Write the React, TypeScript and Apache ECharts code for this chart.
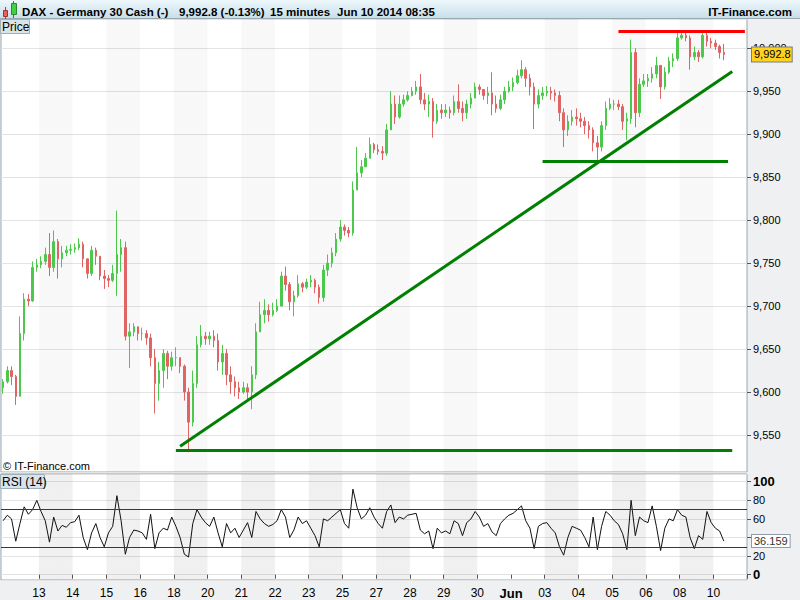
import React, { useEffect, useRef } from 'react';
import * as echarts from 'echarts';

// ---- x axis layout: one section per trading day ----
const dayLabels = ['', '13', '14', '15', '16', '18', '20', '21', '22', '23', '25', '27', '28', '29', '30', 'Jun', '03', '04', '05', '06', '08', '10'];
const slotsPerDay = [9, 8, 8, 8, 8, 8, 8, 8, 8, 8, 8, 8, 8, 8, 8, 8, 8, 8, 8, 8, 8, 8];
const shadedDays = ['13', '15', '18', '21', '23', '27', '29', '03', '05', '08'];

// ---- price data (DAX cash) ----
const firstOpen = 9605;
const closes = [
  9612, 9625, 9618, 9595, 9668, 9708, 9706, 9745, 9748,
  9752, 9760, 9745, 9775, 9755, 9762, 9765, 9766,
  9768, 9772, 9755, 9738, 9765, 9758, 9735, 9732,
  9730, 9738, 9760, 9768, 9665, 9670, 9676, 9668,
  9668, 9663, 9640, 9610, 9625, 9645, 9630, 9640,
  9640, 9630, 9600, 9565, 9610, 9655, 9665, 9662,
  9665, 9660, 9635, 9645, 9620, 9612, 9605, 9600,
  9605, 9600, 9620, 9670, 9690, 9695, 9690, 9695,
  9700, 9735, 9725, 9705, 9712, 9726, 9722, 9728,
  9730, 9722, 9710, 9742, 9750, 9762, 9778, 9792,
  9788, 9785, 9835, 9855, 9862, 9872, 9888, 9882,
  9880, 9878, 9905, 9935, 9920, 9935, 9940, 9945,
  9950, 9955, 9940, 9935, 9938, 9915, 9928, 9925,
  9928, 9925, 9938, 9930, 9925, 9935, 9942, 9955,
  9952, 9945, 9948, 9935, 9930, 9940, 9950, 9955,
  9960, 9968, 9975, 9965, 9955, 9935, 9945, 9948,
  9950, 9948, 9945, 9925, 9905, 9915, 9920, 9918,
  9915, 9910, 9905, 9890, 9885, 9910, 9930, 9935,
  9935, 9932, 9915, 9918, 9995, 9925, 9958, 9962,
  9965, 9970, 9980, 9955, 9972, 9985, 9988, 10012,
  10015, 10012, 9990, 9995, 9990, 10015, 10008, 10006,
  10002, 9995, 9992.8,
];
const highs = [
  9615, 9630, 9630, 9620, 9688, 9715, 9714, 9752, 9755,
  9758, 9768, 9785, 9788, 9778, 9770, 9770, 9772,
  9773, 9779, 9775, 9752, 9770, 9768, 9750, 9742,
  9736, 9748, 9811, 9778, 9775, 9680, 9680, 9675,
  9675, 9672, 9668, 9650, 9635, 9650, 9648, 9647,
  9652, 9640, 9632, 9605, 9625, 9665, 9678, 9670,
  9670, 9672, 9668, 9655, 9650, 9630, 9618, 9612,
  9612, 9610, 9630, 9680, 9705, 9708, 9702, 9704,
  9708, 9740, 9746, 9728, 9718, 9736, 9728, 9732,
  9736, 9732, 9725, 9748, 9760, 9768, 9785, 9800,
  9795, 9792, 9845, 9885, 9870, 9878, 9896, 9890,
  9888, 9886, 9912, 9950, 9945, 9945, 9946, 9950,
  9955, 9962, 9970, 9948, 9946, 9942, 9935, 9935,
  9935, 9932, 9945, 9958, 9938, 9940, 9948, 9960,
  9958, 9952, 9955, 9972, 9945, 9946, 9955, 9962,
  9966, 9975, 9986, 9978, 9970, 9960, 9952, 9955,
  9956, 9955, 9952, 9950, 9930, 9922, 9928, 9930,
  9925, 9920, 9915, 9908, 9898, 9915, 9938, 9942,
  9940, 9940, 9935, 9925, 10010, 10000, 9965, 9970,
  9970, 9978, 9990, 9980, 9978, 9990, 9994, 10020,
  10020, 10020, 10015, 10002, 9998, 10020, 10018, 10012,
  10010, 10004, 10005,
];
const lows = [
  9598, 9610, 9608, 9585, 9605, 9660, 9700, 9705, 9740,
  9744, 9748, 9735, 9740, 9732, 9745, 9758, 9760,
  9762, 9765, 9745, 9732, 9735, 9748, 9730, 9720,
  9722, 9728, 9712, 9740, 9660, 9628, 9665, 9660,
  9660, 9655, 9630, 9575, 9590, 9605, 9615, 9625,
  9630, 9622, 9590, 9530, 9560, 9605, 9652, 9655,
  9655, 9652, 9625, 9620, 9608, 9598, 9595, 9592,
  9598, 9592, 9580, 9615, 9670, 9680, 9682, 9688,
  9693, 9700, 9718, 9695, 9688, 9710, 9716, 9720,
  9722, 9715, 9703, 9705, 9735, 9745, 9758, 9775,
  9782, 9780, 9782, 9835, 9850, 9862, 9878, 9878,
  9876, 9870, 9875, 9905, 9912, 9918, 9932, 9938,
  9944, 9946, 9935, 9928, 9920, 9896, 9912, 9918,
  9920, 9918, 9922, 9925, 9915, 9918, 9930, 9942,
  9946, 9940, 9935, 9922, 9925, 9928, 9935, 9948,
  9950, 9958, 9965, 9955, 9945, 9906, 9930, 9940,
  9944, 9940, 9938, 9915, 9885, 9898, 9910, 9910,
  9908, 9900, 9895, 9880, 9866, 9880, 9905, 9928,
  9928, 9928, 9905, 9893, 9912, 9908, 9920, 9955,
  9955, 9960, 9965, 9941, 9952, 9970, 9978, 9985,
  10010, 10008, 9975, 9986, 9984, 9988, 10002, 10000,
  9998, 9988, 9986,
];

// ---- RSI (14) ----
const rsi = [
  58, 64, 60, 36, 55, 73, 65, 70, 80,
  68, 58, 35, 62, 47, 53, 51, 56,
  57, 64, 40, 27, 45, 55, 40, 30,
  45, 52, 85, 58, 22, 40, 48, 47,
  45, 38, 65, 28, 45, 50, 48, 62,
  52, 40, 22, 19, 55, 70, 62, 56,
  52, 62, 45, 30, 55, 45, 50, 40,
  48, 56, 40, 68, 60, 55, 52, 54,
  58, 70, 62, 40, 48, 62, 55, 58,
  50, 42, 30, 60, 58, 62, 66, 70,
  55, 50, 92, 72, 60, 64, 72, 62,
  55, 50, 68, 75, 56, 62, 60, 64,
  65, 66, 48, 44, 47, 28, 50, 45,
  47, 44, 58, 55, 42, 56, 60, 68,
  62, 52, 55, 46, 42, 55, 60, 64,
  66, 70, 74, 58, 50, 28, 52, 55,
  56, 50, 45, 30, 21, 40, 52, 50,
  48, 40, 30, 62, 27, 52, 68, 64,
  58, 54, 44, 27, 80, 42, 62, 58,
  56, 74, 52, 26, 50, 60, 58, 70,
  64, 62, 40, 28, 42, 38, 68, 56,
  50, 47, 36.159,
];

// ---- drawn levels ----
const resistanceLevel = 10020;
const supportHigh = 9868;
const supportLow = 9532;
const trendStart = 9537;
const trendEnd = 9973;
const rsiUpper = 70;
const rsiLower = 30;

const priceMin = 9507;
const priceMax = 10034;
const rsiMin = -5.7;
const rsiMax = 108.3;

const FONT = 'Liberation Sans, Arial, sans-serif';

export default function App() {
  const ref = useRef<HTMLDivElement>(null);

  useEffect(() => {
    if (!ref.current) return;
    const chart = echarts.init(ref.current, undefined, { renderer: 'svg' });

    const categories: string[] = [];
    const slotDay: string[] = [];
    const dayStart: boolean[] = [];
    dayLabels.forEach((d, i) => {
      for (let k = 0; k < slotsPerDay[i]; k++) {
        categories.push(`${i}-${k}`);
        slotDay.push(d);
        dayStart.push(k === 0 && i > 0);
      }
    });

    const candles = closes.map((c, i) => {
      const o = i === 0 ? firstOpen : closes[i - 1];
      return [o, c, Math.min(lows[i], o, c), Math.max(highs[i], o, c)];
    });
    const bands = categories.map((_, i) => (shadedDays.includes(slotDay[i]) ? 1 : '-'));
    const lastClose = closes[closes.length - 1];
    const lastRsi = rsi[rsi.length - 1];
    const fmt = (v: number) => v.toLocaleString('en-US', { maximumFractionDigits: 1 });

    const gLine = { color: '#008000', width: 3, type: 'solid' };
    const rLine = { color: '#ff0000', width: 3, type: 'solid' };
    const hidden = { color: 'rgba(0,0,0,0)', width: 0, type: 'solid', opacity: 1 };

    const option: any = {
      animation: false,
      backgroundColor: '#eef0f2',
      textStyle: { fontFamily: FONT },
      grid: [
        { left: 1, top: 19, width: 746, height: 453, show: true, backgroundColor: '#ffffff', borderColor: '#9aa6ae', borderWidth: 1 },
        { left: 1, top: 474, width: 746, height: 106, show: true, backgroundColor: '#ffffff', borderColor: '#9aa6ae', borderWidth: 1 },
      ],
      xAxis: [
        { type: 'category', gridIndex: 0, data: categories, boundaryGap: true, show: false },
        {
          type: 'category', gridIndex: 1, data: categories, boundaryGap: true,
          axisLine: { show: false },
          axisTick: { show: true, interval: (i: number) => dayStart[i], length: 4, lineStyle: { color: '#555' } },
          axisLabel: {
            interval: (i: number) => dayStart[i],
            formatter: (_v: string, i: number) => (slotDay[i] === 'Jun' ? '{b|Jun}' : slotDay[i]),
            margin: 7, fontSize: 12, color: '#000', fontFamily: FONT, padding: [0, 4, 0, 0],
            rich: { b: { fontWeight: 'bold', fontSize: 13, color: '#000', fontFamily: FONT } },
          },
          splitLine: { show: false },
        },
      ],
      yAxis: [
        {
          type: 'value', gridIndex: 0, position: 'right', min: priceMin, max: priceMax, splitNumber: 10,
          axisLine: { show: false },
          axisTick: { show: true, length: 4, lineStyle: { color: '#555' } },
          axisLabel: { formatter: (v: number) => fmt(v), fontSize: 11, color: '#000', margin: 6, showMinLabel: false, showMaxLabel: false, fontFamily: FONT },
          splitLine: { show: true, lineStyle: { color: '#e3e3e3', width: 1 } },
        },
        { type: 'value', gridIndex: 0, min: 0, max: 1, show: false },
        {
          type: 'value', gridIndex: 1, position: 'right', min: rsiMin, max: rsiMax, splitNumber: 5,
          axisLine: { show: false },
          axisTick: { show: true, length: 4, lineStyle: { color: '#555' } },
          axisLabel: {
            // the 40 label sits under the current-value box in the original
            formatter: (v: number) => (v === 100 || v === 0 ? `{b|${v}}` : v === 40 ? '' : `{n|${v}}`),
            margin: 6, showMinLabel: false, showMaxLabel: false,
            rich: {
              b: { fontWeight: 'bold', fontSize: 13, color: '#000', fontFamily: FONT },
              n: { fontSize: 11, color: '#000', fontFamily: FONT },
            },
          },
          splitLine: { show: true, lineStyle: { color: '#e3e3e3', width: 1 } },
        },
        { type: 'value', gridIndex: 1, min: 0, max: 1, show: false },
      ],
      series: [
        {
          type: 'bar', xAxisIndex: 0, yAxisIndex: 1, data: bands, barWidth: '100%', barCategoryGap: '0%',
          itemStyle: { color: 'rgba(0,0,0,0.028)' }, silent: true,
        },
        {
          type: 'bar', xAxisIndex: 1, yAxisIndex: 3, data: bands, barWidth: '100%', barCategoryGap: '0%',
          itemStyle: { color: 'rgba(0,0,0,0.06)' }, silent: true,
        },
        {
          type: 'candlestick', xAxisIndex: 0, yAxisIndex: 0, data: candles, barWidth: 2,
          itemStyle: { color: '#4cc94c', color0: '#e06464', borderColor: '#4cc94c', borderColor0: '#e06464', borderWidth: 1 },
          markLine: {
            silent: true, symbol: ['none', 'none'], animation: false,
            label: { show: false },
            data: [
              [{ coord: [146, resistanceLevel], lineStyle: rLine }, { coord: [176, resistanceLevel], lineStyle: rLine }],
              [{ coord: [128, supportHigh], lineStyle: gLine }, { coord: [172, supportHigh], lineStyle: gLine }],
              [{ coord: [41, supportLow], lineStyle: gLine }, { coord: [173, supportLow], lineStyle: gLine }],
              [{ coord: [42, trendStart], lineStyle: gLine }, { coord: [173, trendEnd], lineStyle: gLine }],
              {
                yAxis: lastClose,
                lineStyle: hidden,
                label: {
                  show: true, position: 'end', distance: 5, formatter: fmt(lastClose), opacity: 1,
                  backgroundColor: '#ffd21f', borderColor: '#7a7a7a', borderWidth: 1,
                  padding: [2, 1, 1, 2], fontSize: 11, color: '#000', fontFamily: FONT,
                },
              },
            ],
          },
        },
        {
          type: 'line', xAxisIndex: 1, yAxisIndex: 2, data: rsi, symbol: 'none',
          lineStyle: { color: '#111', width: 1 },
          markLine: {
            silent: true, symbol: ['none', 'none'], animation: false,
            label: { show: false },
            data: [
              { yAxis: rsiUpper, lineStyle: { color: '#2a2aa8', width: 1, type: 'solid' } },
              { yAxis: rsiLower, lineStyle: { color: '#2a2aa8', width: 1, type: 'solid' } },
              {
                yAxis: lastRsi,
                lineStyle: hidden,
                label: {
                  show: true, position: 'end', distance: 5, formatter: String(lastRsi), opacity: 1,
                  backgroundColor: '#ffffff', borderColor: '#8c9ca8', borderWidth: 1,
                  padding: [1, 2, 0, 2], fontSize: 11, color: '#333', fontFamily: FONT,
                },
              },
            ],
          },
        },
      ],
      graphic: [
        {
          type: 'rect', z: 100, shape: { x: 0, y: 0, width: 800, height: 19 },
          style: {
            fill: new echarts.graphic.LinearGradient(0, 0, 0, 1, [
              { offset: 0, color: '#eef8fc' },
              { offset: 1, color: '#c7dde8' },
            ]),
          },
        },
        { type: 'line', z: 101, shape: { x1: 0, y1: 18.5, x2: 800, y2: 18.5 }, style: { stroke: '#9aa8b2', lineWidth: 1 } },
        { type: 'line', z: 101, shape: { x1: 5.5, y1: 7, x2: 5.5, y2: 19 }, style: { stroke: '#b03a3a', lineWidth: 1 } },
        { type: 'rect', z: 102, shape: { x: 3.5, y: 10.5, width: 4, height: 6 }, style: { fill: '#e86060', stroke: '#a83030', lineWidth: 1 } },
        { type: 'line', z: 101, shape: { x1: 13.5, y1: 1, x2: 13.5, y2: 18 }, style: { stroke: '#2a8a2a', lineWidth: 1 } },
        { type: 'rect', z: 102, shape: { x: 11.5, y: 3.5, width: 5, height: 11 }, style: { fill: '#44d044', stroke: '#2a8a2a', lineWidth: 1 } },
        { type: 'text', z: 102, x: 22, y: 12, style: { text: 'DAX - Germany 30 Cash (-)', fontSize: 11.5, fontWeight: 'bold', fontFamily: FONT, fill: '#000', verticalAlign: 'middle' } },
        { type: 'text', z: 102, x: 179, y: 12, style: { text: `${fmt(lastClose)} (-0.13%)`, fontSize: 11.5, fontWeight: 'bold', fontFamily: FONT, fill: '#000', verticalAlign: 'middle' } },
        { type: 'text', z: 102, x: 270, y: 12, style: { text: '15 minutes', fontSize: 11.5, fontWeight: 'bold', fontFamily: FONT, fill: '#000', verticalAlign: 'middle' } },
        { type: 'text', z: 102, x: 337, y: 12, style: { text: 'Jun 10 2014 08:35', fontSize: 11.5, fontWeight: 'bold', fontFamily: FONT, fill: '#000', verticalAlign: 'middle' } },
        { type: 'text', z: 102, x: 792, y: 12, style: { text: 'IT-Finance.com', fontSize: 11.5, fontWeight: 'bold', fontFamily: FONT, fill: '#000', align: 'right', verticalAlign: 'middle' } },
        { type: 'rect', z: 100, shape: { x: 0.5, y: 19.5, width: 29, height: 14 }, style: { fill: '#d8e4eb', stroke: '#9fb0bb', lineWidth: 1 } },
        { type: 'text', z: 101, x: 2, y: 27, style: { text: 'Price', fontSize: 12, fontFamily: FONT, fill: '#000', verticalAlign: 'middle' } },
        { type: 'text', z: 101, x: 3, y: 466, style: { text: '© IT-Finance.com', fontSize: 11, fontFamily: FONT, fill: '#000', verticalAlign: 'middle' } },
        { type: 'rect', z: 100, shape: { x: 0.5, y: 474.5, width: 44, height: 14 }, style: { fill: '#d8e4eb', stroke: '#9fb0bb', lineWidth: 1 } },
        { type: 'text', z: 101, x: 2, y: 482, style: { text: 'RSI (14)', fontSize: 12, fontFamily: FONT, fill: '#000', verticalAlign: 'middle' } },
      ],
    };

    chart.setOption(option);
    return () => chart.dispose();
  }, []);

  return <div ref={ref} style={{ position: 'absolute', left: 0, top: 0, width: 800, height: 600 }} />;
}
